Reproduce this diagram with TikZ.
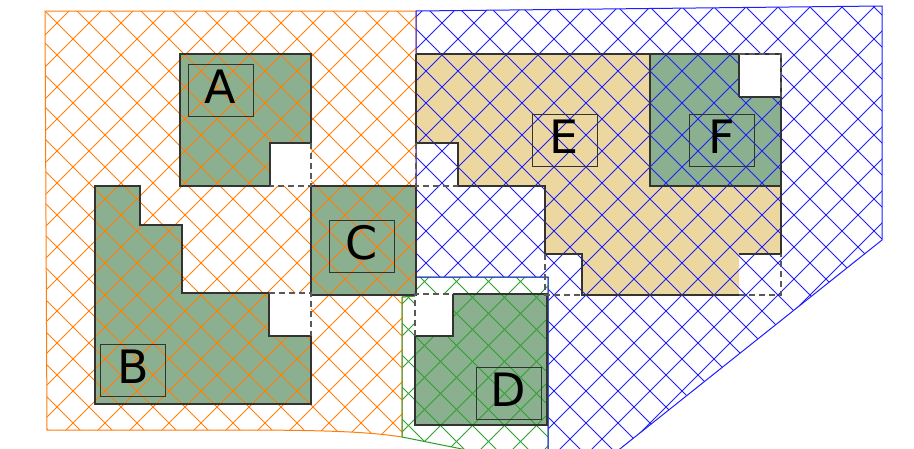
\documentclass[tikz,border=0pt]{standalone}
\usepackage{fontspec}
\setmainfont{DejaVu Sans}
\definecolor{shapegreen}{RGB}{139,176,143}
\definecolor{shapetan}{RGB}{236,215,161}
\definecolor{hatchorange}{RGB}{255,127,14}
\definecolor{hatchblue}{RGB}{30,30,255}
\definecolor{hatchgreen}{RGB}{44,160,44}
\begin{document}
\begin{tikzpicture}[x=1pt,y=-1pt,
  greenshape/.style={fill=shapegreen},
  tanshape/.style={fill=shapetan},
  outline/.style={draw=black!80,line width=1.3pt,line join=miter},
  notchfill/.style={fill=white},
  notchdash/.style={draw=black!65,line width=1.3pt,dash pattern=on 6pt off 4pt},
  hatchline/.style={line width=0.9pt},
  regionline/.style={line width=1pt},
  lbl/.style={draw=black!80,line width=0.9pt,minimum width=65pt,minimum height=52pt,inner sep=0pt,
    text height=33pt,text depth=6pt,font=\fontsize{46}{46}\selectfont}]
\clip (0,0) rectangle (914,448);
\fill[white] (0,0) rectangle (914,448);

% ---- shape fills ----
\path[tanshape] (416,54) -- (781,54) -- (781,254) -- (739,254) -- (739,295) -- (582,295) -- (582,254) -- (545,254) -- (545,186) -- (458,186) -- (458,143) -- (416,143) -- cycle;
\path[greenshape] (650,54) -- (739,54) -- (739,97) -- (781,97) -- (781,186) -- (650,186) -- cycle;
\path[greenshape] (180,54) -- (311,54) -- (311,143) -- (270,143) -- (270,186) -- (180,186) -- cycle;
\path[greenshape] (95,186) -- (140,186) -- (140,225) -- (182,225) -- (182,293) -- (269,293) -- (269,336) -- (311,336) -- (311,404) -- (95,404) -- cycle;
\path[greenshape] (311,186) rectangle (416,295);
\path[greenshape] (453,294) -- (547,294) -- (547,425) -- (415,425) -- (415,336) -- (453,336) -- cycle;

% ---- hatches ----
\begin{scope}
  \clip (45,11) -- (416,11) -- (416,296) -- (402,297) -- (402,437) .. controls (370,432) and (330,430) .. (233,430) -- (47,430) -- cycle;
  \foreach \s in {16,48,...,1440} \draw[hatchorange,hatchline] (\s,0) -- (\s-500,500);
  \foreach \t in {-478,-446,...,930} \draw[hatchorange,hatchline] (\t,0) -- (\t+500,500);
\end{scope}
\begin{scope}
  \clip (416,277) -- (548,277) -- (548,460) -- (517,460) -- (402,437) -- (402,297) -- (416,296) -- cycle;
  \foreach \s in {2,34,...,1440} \draw[hatchgreen,hatchline] (\s,0) -- (\s-500,500);
  \foreach \t in {-497,-465,...,930} \draw[hatchgreen,hatchline] (\t,0) -- (\t+500,500);
\end{scope}
\begin{scope}
  \clip (416,11) -- (882,6) -- (882,240) -- (606,460) -- (548,460) -- (548,277) -- (416,277) -- cycle;
  \foreach \s in {17,49,...,1440} \draw[hatchblue,hatchline] (\s,0) -- (\s-500,500);
  \foreach \t in {-477,-445,...,930} \draw[hatchblue,hatchline] (\t,0) -- (\t+500,500);
\end{scope}

% ---- region borders ----
\draw[hatchorange,regionline] (45,11) -- (416,11) -- (416,296) -- (402,297) -- (402,437) .. controls (370,432) and (330,430) .. (233,430) -- (47,430) -- cycle;
\draw[hatchgreen,regionline] (416,277) -- (548,277) -- (548,460) -- (517,460) -- (402,437) -- (402,297) -- (416,296) -- cycle;
\draw[hatchblue,regionline] (416,11) -- (882,6) -- (882,240) -- (606,460) -- (548,460) -- (548,277) -- (416,277) -- cycle;

% ---- white notches over hatch ----
\path[notchfill] (270,143) rectangle (311,186);
\path[notchfill] (269,293) rectangle (311,336);
\path[notchfill] (415,294) rectangle (453,336);
\path[notchfill] (739,54) rectangle (781,97);

% ---- outlines ----
\draw[outline] (416,54) -- (781,54) -- (781,254) -- (739,254) (739,295) -- (582,295) -- (582,254) -- (545,254) -- (545,186) -- (458,186) -- (458,143) -- (416,143) (416,143) -- (416,54);
\draw[outline] (739,97) -- (781,97) -- (781,186) -- (650,186) -- (650,54) -- (739,54) -- (739,97);
\draw[outline] (311,143) -- (270,143) -- (270,186) -- (180,186) -- (180,54) -- (311,54) -- (311,143);
\draw[outline] (269,293) -- (182,293) -- (182,225) -- (140,225) -- (140,186) -- (95,186) -- (95,404) -- (311,404) -- (311,336) -- (269,336) -- (269,293);
\draw[outline] (311,186) rectangle (416,295);
\draw[outline] (453,294) -- (547,294) -- (547,425) -- (415,425) -- (415,336) -- (453,336) -- (453,294);

% ---- dashed notch borders ----
\draw[notchdash] (311,143) -- (311,186) -- (270,186);
\draw[notchdash] (269,293) -- (311,293) -- (311,336);
\draw[notchdash] (415,336) -- (415,294) -- (453,294);
\draw[notchdash] (739,54) -- (781,54) -- (781,97);
\draw[notchdash] (416,143) -- (416,186) -- (458,186);
\draw[notchdash] (545,254) -- (545,295) -- (582,295);
\draw[notchdash] (739,295) -- (781,295) -- (781,254);

% ---- labels ----
\node[lbl] (la) at (220.5,90) {A};
\node[lbl] (lb) at (133,370) {B};
\node[lbl] (lc) at (361.5,246) {C};
\node[lbl] (ld) at (508.5,393) {D};
\node[lbl] (le) at (564.5,140) {E};
\node[lbl] (lf) at (721.5,140) {F};
\end{tikzpicture}
\end{document}
